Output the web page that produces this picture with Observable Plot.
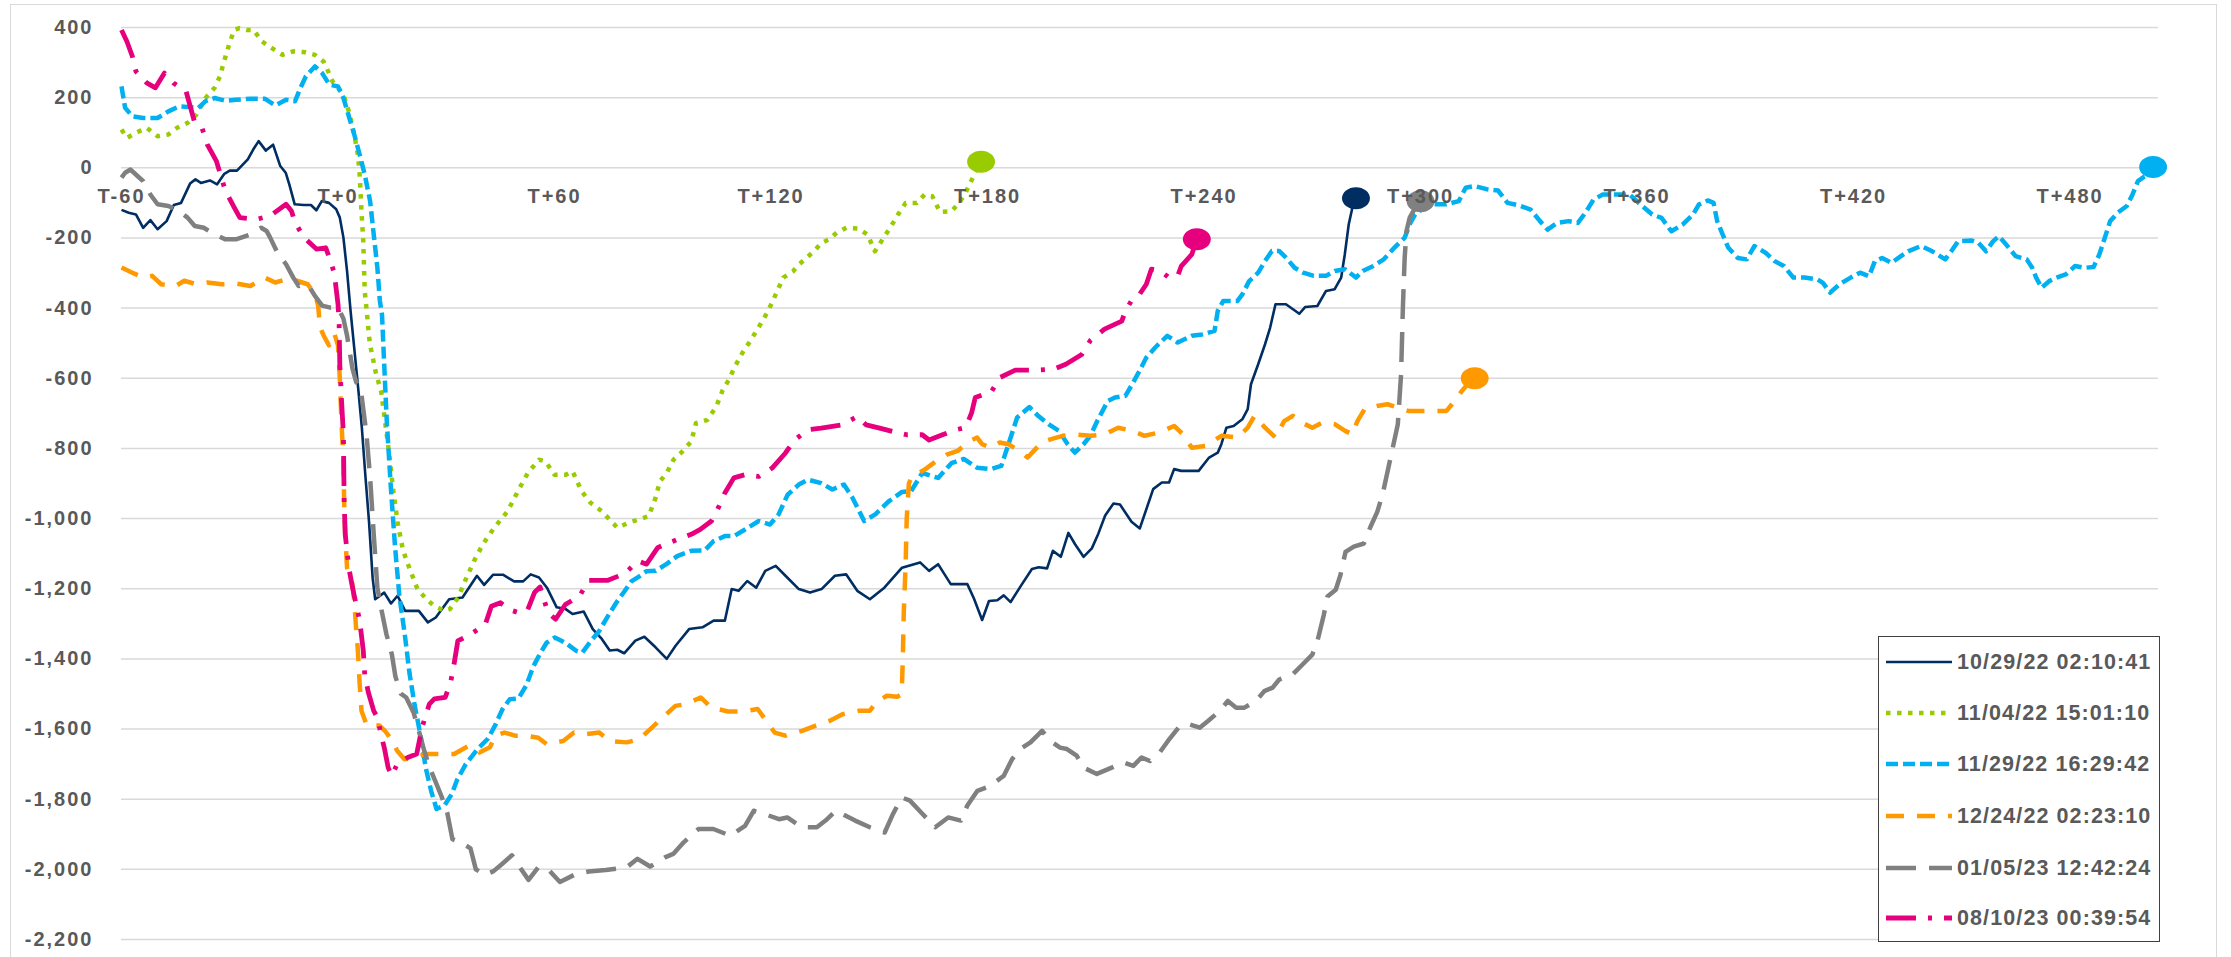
<!DOCTYPE html>
<html><head><meta charset="utf-8">
<script src="https://cdn.jsdelivr.net/npm/d3@7"></script>
<script src="https://cdn.jsdelivr.net/npm/@observablehq/plot@0.6"></script>
<style>
html,body{margin:0;padding:0;background:#fff;overflow:hidden;}
#wrap{position:relative;width:2231px;height:957px;font-family:"Liberation Sans",Arial,sans-serif;}
#frame{position:absolute;left:10px;top:4px;width:2207px;height:1000px;border:1.5px solid #d9d9d9;box-sizing:border-box;}
#chart{position:absolute;left:0;top:0;}
#chart svg{font-family:"Liberation Sans",Arial,sans-serif !important;overflow:visible;background:transparent !important;}
#chart svg text{font-weight:bold;fill:#595959;letter-spacing:2px;font-size:20px;}
#legend{position:absolute;left:1878px;top:636px;width:282px;height:306px;border:1.5px solid #404040;background:#fff;box-sizing:border-box;}
.row{position:absolute;left:7px;height:30px;display:flex;align-items:center;}
.row svg{display:block;margin-right:5px;}
.row span{font-weight:bold;font-size:21.5px;color:#595959;letter-spacing:1.1px;white-space:nowrap;}
</style>
</head><body>
<div id="wrap"><div id="frame"></div><div id="chart"></div><div id="legend"></div></div>
<script>
const xTicks = [-60, 0, 60, 120, 180, 240, 300, 360, 420, 480];
const xTickLabels = ["T-60","T+0","T+60","T+120","T+180","T+240","T+300","T+360","T+420","T+480"];
const yTicks = [400,200,0,-200,-400,-600,-800,-1000,-1200,-1400,-1600,-1800,-2000,-2200];
const seriesNames = ["10/29/22 02:10:41","11/04/22 15:01:10","11/29/22 16:29:42","12/24/22 02:23:10","01/05/23 12:42:24","08/10/23 00:39:54"];

// [minute relative to T, value]
const s102922 = [[-60,-120],[-58,-128],[-56,-133],[-54,-171],[-52,-149],[-50,-175],[-47.5,-152],[-45.5,-106],[-43.5,-100],[-41,-45],[-39.5,-33],[-38,-43],[-35.5,-36],[-33.5,-47],[-31.5,-17],[-30,-8],[-28,-8],[-25,24],[-23.5,52],[-22,76],[-20,49],[-18,66],[-16,5],[-14.5,-14],[-13.5,-47],[-12,-104],[-9.5,-106],[-7.5,-106],[-6,-121],[-4.5,-95],[-2.5,-100],[-0.5,-118],[0.5,-142],[1.5,-199],[2.5,-294],[3.5,-410],[4.6,-525],[5.7,-640],[6.6,-740],[7.6,-880],[8.6,-1010],[9.6,-1170],[10.3,-1230],[12.8,-1211],[14.7,-1242],[16.5,-1220],[18.6,-1263],[22.4,-1263],[24.9,-1296],[27.1,-1282],[30.8,-1230],[34.5,-1225],[38.5,-1163],[40.5,-1189],[43,-1160],[45.7,-1160],[48.8,-1179],[51.3,-1179],[53.4,-1159],[55.7,-1168],[57.9,-1197],[60.6,-1253],[63.1,-1258],[65,-1272],[68.1,-1265],[70.6,-1315],[73.1,-1343],[75.3,-1376],[77.4,-1374],[79.3,-1384],[82.4,-1348],[84.9,-1337],[88,-1367],[91.1,-1400],[93.6,-1362],[97.3,-1315],[101,-1310],[104.1,-1291],[107.2,-1291],[109.1,-1201],[111,-1206],[113.4,-1178],[115.9,-1197],[118.4,-1149],[121.3,-1135],[124,-1163],[127.7,-1201],[130.8,-1211],[134,-1201],[137.7,-1163],[140.8,-1159],[143.9,-1206],[147.4,-1230],[151.4,-1197],[156.3,-1140],[161.3,-1125],[163.8,-1149],[166.3,-1130],[169.8,-1187],[174.4,-1187],[176.2,-1227],[178.5,-1289],[180.4,-1235],[182.7,-1233],[184.5,-1219],[186.4,-1238],[189.1,-1194],[192.3,-1144],[194.2,-1139],[196.5,-1142],[198.1,-1092],[200.3,-1109],[202.4,-1041],[204.3,-1074],[206.6,-1109],[208.9,-1085],[210.7,-1043],[212.6,-991],[214.9,-957],[216.7,-960],[219.9,-1009],[222.2,-1028],[225.9,-916],[228.3,-897],[230.3,-897],[231.7,-859],[233.7,-864],[238.5,-864],[241.4,-826],[243.8,-812],[244.8,-788],[246.2,-741],[248.2,-736],[250.6,-717],[252.1,-688],[253,-617],[255,-560],[256.9,-503],[258.3,-456],[259.8,-389],[262.7,-389],[266.4,-416],[268,-397],[271.4,-394],[273.8,-351],[276.2,-346],[278,-313],[279,-247],[280.1,-161],[281.1,-114],[282.1,-87]];

const s110422 = [[-60,109],[-58.5,85],[-56,100],[-53,114],[-50,90],[-47,95],[-44.6,114],[-41.7,128],[-39.2,152],[-36.7,199],[-34.2,228],[-32.7,261],[-31.7,299],[-30.2,351],[-28.8,393],[-27.3,398],[-25.3,393],[-23.3,393],[-21.3,362],[-18.3,341],[-15.4,322],[-12.4,332],[-9.4,330],[-6.4,322],[-4,303],[-2.5,270],[-1.5,246],[1.5,209],[3,161],[4.5,95],[5.5,38],[6,-19],[6.5,-123],[7,-209],[7.4,-351],[7.9,-402],[8.8,-500],[10.5,-585],[12,-640],[13,-720],[14,-800],[15.2,-910],[16.5,-1010],[18,-1090],[19.8,-1142],[22,-1200],[24.5,-1230],[26.8,-1250],[29.5,-1263],[31,-1258],[33.3,-1225],[35.2,-1178],[37.7,-1121],[40.1,-1074],[43.3,-1026],[47,-979],[50.1,-917],[52.6,-870],[55.7,-832],[57.5,-837],[60,-875],[63.1,-875],[65,-865],[67.5,-922],[70,-955],[73.1,-979],[77.4,-1026],[80.5,-1012],[86.1,-993],[88,-941],[89.2,-894],[91.1,-870],[93,-832],[95.4,-809],[97.9,-780],[99.2,-728],[102.3,-719],[104.8,-681],[106.6,-634],[108.5,-601],[109.7,-572],[112.2,-525],[114.1,-496],[116.6,-454],[119.2,-408],[121.3,-361],[123.4,-313],[126.1,-295],[127.7,-276],[129.8,-257],[131.9,-238],[134,-214],[136.1,-204],[138.2,-185],[140.9,-171],[144.1,-173],[146.7,-190],[148.8,-238],[150.9,-204],[153,-171],[155.2,-133],[157.3,-100],[160.4,-100],[162.6,-76],[164.7,-81],[166.8,-126],[170,-124],[172.1,-100],[173.7,-76],[175.2,-43],[176.8,-10],[178.2,17]];

const s112922 = [[-60,232],[-59,171],[-57,147],[-54,142],[-50,142],[-47,161],[-44,175],[-41,173],[-38.7,171],[-36.7,190],[-34.2,199],[-31.2,191],[-28.3,194],[-24.3,197],[-20.3,197],[-17.4,178],[-14.4,194],[-11.9,190],[-10.4,228],[-8.9,261],[-6.4,289],[-4.4,270],[-2.4,237],[0,232],[1.5,199],[3,147],[4.5,95],[6,38],[7.4,-19],[8.9,-95],[9.9,-190],[10.9,-284],[11.6,-379],[12.2,-420],[12.8,-560],[13.5,-720],[14.6,-905],[15.8,-1080],[17,-1220],[18.5,-1330],[19.8,-1440],[21.2,-1530],[22.8,-1614],[24.3,-1710],[25.8,-1776],[27.3,-1828],[29.5,-1818],[31.5,-1786],[33,-1745],[35.4,-1700],[38.6,-1658],[41.6,-1627],[43.6,-1588],[45.6,-1543],[47.6,-1515],[50,-1513],[52.2,-1475],[54.2,-1420],[56,-1385],[57.8,-1354],[60.1,-1339],[63,-1354],[66,-1377],[67.7,-1382],[70.1,-1349],[72.4,-1320],[74.8,-1278],[77.1,-1240],[79.4,-1207],[81.2,-1180],[83.5,-1165],[85.5,-1150],[88,-1149],[91,-1130],[94,-1107],[97.9,-1092],[101.6,-1091],[104.1,-1064],[107.2,-1050],[109.7,-1050],[112.8,-1031],[116.6,-1007],[119.7,-1017],[122.1,-988],[124.6,-932],[127.7,-903],[130.2,-889],[133.9,-899],[137,-917],[140.2,-903],[142.6,-941],[145.8,-1007],[148.9,-988],[152.6,-951],[156.3,-924],[158.8,-922],[161.9,-870],[166.3,-884],[170,-842],[173.4,-830],[177.1,-855],[180.9,-859],[183.8,-850],[185.8,-788],[188.2,-712],[191.6,-682],[194,-707],[196.9,-731],[199.8,-750],[202.2,-788],[204.2,-812],[206.6,-788],[208.5,-764],[210.4,-722],[213.3,-665],[215.3,-655],[218.2,-650],[220.1,-617],[222.1,-579],[224,-541],[226.4,-513],[229.8,-479],[232.7,-498],[236.6,-479],[239.5,-475],[242.9,-465],[243.8,-408],[245.3,-380],[249.2,-380],[250.6,-361],[252.5,-323],[255,-299],[256.9,-266],[258.8,-237],[260.8,-237],[262.7,-256],[265.1,-285],[267.5,-299],[270.4,-308],[273.8,-308],[276.2,-294],[279.1,-289],[282.1,-313],[284,-294],[286.9,-280],[289.8,-261],[292.7,-228],[295.6,-199],[297,-161],[298.5,-133],[300.9,-114],[303.8,-104],[307.2,-104],[310.6,-95],[312.5,-57],[315,-52],[318.8,-62],[321.5,-65],[324.1,-100],[327.3,-107],[330.5,-119],[333.1,-152],[335.2,-176],[337.8,-157],[341,-152],[343.6,-157],[345.7,-128],[347.9,-91],[350.5,-76],[354.7,-76],[357.9,-76],[361,-105],[364.2,-133],[366.8,-143],[369.5,-181],[372.6,-162],[375.5,-133],[377.1,-105],[379.6,-93],[381.2,-100],[382.2,-152],[383.7,-190],[385.3,-228],[387.9,-257],[390.4,-261],[392.5,-223],[395.6,-242],[398.1,-266],[400.7,-280],[403.3,-313],[406.4,-313],[410,-318],[411.5,-328],[413.5,-356],[416.1,-332],[419.2,-313],[421.8,-299],[424.3,-309],[425.9,-266],[427.9,-257],[430.5,-271],[433.1,-252],[435.1,-238],[438.7,-223],[441.8,-238],[445.4,-261],[447.4,-233],[449,-209],[452.6,-207],[454.6,-214],[456.7,-238],[458.7,-209],[460.3,-195],[462.3,-219],[464.9,-252],[468,-261],[469.5,-285],[470.6,-313],[472.1,-342],[474.2,-323],[476.2,-313],[478.8,-304],[481.4,-280],[484,-285],[486.5,-283],[488.1,-247],[489.6,-200],[491.1,-152],[493.2,-128],[495.7,-109],[497.3,-76],[498.8,-38],[501.4,-19],[503,2]];

const s122422 = [[-60,-284],[-57,-299],[-54,-313],[-51.5,-308],[-49,-332],[-45,-337],[-42.6,-322],[-39.2,-332],[-36.2,-327],[-32.2,-332],[-28.3,-330],[-24.3,-337],[-20.3,-313],[-17.4,-327],[-14.4,-318],[-11.4,-322],[-8.4,-332],[-6.4,-360],[-5.5,-393],[-5,-454],[-4,-478],[-2.5,-506],[-1,-473],[0,-506],[0.5,-600],[1,-733],[1.5,-837],[1.7,-951],[2,-1045],[2.5,-1140],[4,-1187],[4.5,-1234],[5,-1310],[5.5,-1376],[6,-1471],[6.5,-1548],[8,-1590],[11.5,-1590],[13,-1605],[15,-1633],[16.4,-1662],[18.4,-1686],[21.3,-1681],[24.3,-1671],[28.3,-1671],[32.2,-1671],[36.2,-1648],[39.2,-1667],[42.1,-1652],[43.6,-1619],[46.1,-1610],[49.1,-1619],[52,-1619],[55.5,-1625],[57.8,-1643],[62.4,-1634],[65.4,-1610],[68.3,-1615],[72.4,-1610],[75.3,-1634],[80,-1638],[83.5,-1629],[87,-1596],[90,-1567],[93.5,-1534],[96.4,-1529],[100.5,-1510],[103.5,-1539],[108.1,-1550],[112.2,-1550],[116.3,-1543],[118.7,-1577],[121,-1610],[124,-1619],[128.6,-1605],[132.2,-1591],[136.2,-1577],[139.8,-1558],[144.4,-1548],[147.4,-1548],[149.1,-1524],[152.1,-1505],[155,-1508],[156.2,-1501],[156.5,-1406],[156.8,-1264],[157.3,-1131],[157.6,-1000],[158.2,-900],[159,-880],[160,-875],[162.5,-861],[165,-842],[168.7,-818],[171.7,-807],[175.1,-779],[177.1,-769],[178.5,-788],[180.9,-798],[183.4,-783],[185.8,-788],[188.7,-807],[191.1,-826],[195,-783],[197.4,-774],[200.8,-764],[204.2,-760],[208.5,-764],[212.4,-760],[216.2,-741],[220.1,-750],[223.5,-764],[227.4,-755],[231.7,-736],[234.2,-760],[236.6,-798],[240.4,-793],[244.8,-764],[249.2,-769],[252.1,-741],[254,-707],[256.9,-741],[259.8,-769],[262.2,-722],[264.6,-707],[267,-726],[270,-741],[272.9,-726],[276.2,-731],[279.1,-750],[281.1,-760],[282.5,-722],[284.5,-688],[287.9,-679],[290.8,-674],[293.7,-684],[296.6,-693],[299.5,-693],[303.3,-693],[307.2,-693],[309.1,-669],[311.1,-641],[313,-617],[315,-600]];

const s010523 = [[-60,-28],[-59,-14],[-57.5,-5],[-55.5,-24],[-54,-38],[-52,-76],[-50,-104],[-47,-109],[-44.1,-123],[-41.7,-142],[-39.7,-166],[-37.2,-171],[-34.2,-190],[-31.2,-204],[-28.3,-204],[-24.3,-190],[-21.3,-171],[-19.8,-180],[-18.8,-199],[-16.8,-242],[-14.4,-275],[-12.4,-313],[-10.9,-337],[-8.4,-332],[-6.4,-365],[-4.4,-393],[-2.4,-398],[0,-398],[1.5,-430],[2.5,-478],[4,-572],[5,-610],[6.4,-638],[7.9,-761],[8.9,-884],[9.9,-1045],[10.9,-1197],[11.9,-1253],[13.4,-1329],[14.9,-1386],[15.9,-1450],[17.4,-1499],[18.9,-1510],[20.9,-1552],[22.4,-1605],[23.9,-1662],[25.4,-1710],[27.3,-1757],[28.8,-1795],[30.3,-1840],[31.7,-1914],[34.2,-1924],[36.7,-1940],[38.2,-2000],[40.7,-2016],[43.1,-2005],[45.3,-1986],[48.2,-1960],[50.4,-1994],[52.8,-2030],[55.5,-1994],[58.4,-2002],[61.5,-2036],[66,-2013],[69.5,-2006],[74.2,-2002],[80,-1994],[83,-1970],[86.5,-1992],[90.6,-1966],[92.9,-1956],[95.8,-1923],[99.9,-1885],[104,-1885],[108.7,-1904],[112.8,-1876],[115.2,-1833],[118.1,-1842],[122.2,-1857],[124.5,-1852],[128.6,-1880],[132.7,-1880],[135.1,-1861],[138,-1833],[143.3,-1861],[147.4,-1880],[151.5,-1895],[153.8,-1842],[156.2,-1795],[158.5,-1804],[162,-1842],[165.5,-1880],[169.1,-1852],[172.6,-1861],[174.4,-1818],[177.2,-1776],[180.8,-1762],[184.5,-1733],[186.8,-1686],[189.1,-1657],[191.9,-1638],[195.1,-1605],[197.4,-1634],[200.1,-1653],[202,-1657],[204.7,-1676],[206.6,-1710],[210.3,-1728],[214.9,-1708],[217.6,-1695],[220.4,-1705],[222.7,-1681],[225,-1691],[227.7,-1667],[230,-1634],[233.3,-1591],[236,-1587],[238.8,-1596],[241.1,-1577],[244.3,-1549],[246.6,-1520],[248.9,-1539],[251.2,-1539],[254.4,-1520],[256.7,-1492],[259,-1482],[260.8,-1459],[264.5,-1445],[267.3,-1416],[270,-1388],[271.4,-1350],[272.3,-1312],[273.2,-1274],[274.2,-1222],[276.5,-1203],[277.8,-1161],[279.2,-1095],[281.5,-1080],[284.3,-1071],[286.1,-1024],[288,-981],[289.5,-930],[291.7,-826],[293.7,-731],[294.6,-589],[295.1,-399],[295.6,-256],[296.1,-180],[297,-142],[298.5,-114],[300,-95]];

const s081023 = [[-60,393],[-58.5,360],[-57,318],[-56,275],[-53,242],[-50.6,228],[-48.1,270],[-45.6,242],[-42.1,218],[-39.7,128],[-37.7,114],[-36.2,66],[-33.7,19],[-31.2,-66],[-28.7,-114],[-27.2,-142],[-22.7,-147],[-18.8,-137],[-14.4,-104],[-12.9,-123],[-11.9,-156],[-9.4,-199],[-5.9,-232],[-3.4,-228],[-1.9,-270],[-1,-303],[0,-389],[0.3,-440],[0.5,-563],[1,-667],[1.5,-761],[1.7,-951],[2,-1045],[3,-1140],[4,-1196],[6,-1291],[7,-1376],[7.4,-1445],[8.4,-1495],[9.9,-1548],[10.9,-1567],[11.9,-1614],[12.9,-1657],[13.9,-1710],[14.9,-1733],[16.4,-1700],[19.3,-1681],[21.8,-1671],[23.3,-1595],[25.3,-1529],[26.7,-1514],[29.7,-1510],[31.2,-1467],[32,-1425],[33.2,-1349],[36.7,-1330],[40.8,-1302],[42.5,-1250],[45,-1240],[47.5,-1260],[50,-1268],[52.5,-1262],[54.5,-1210],[56,-1195],[58.2,-1268],[60.3,-1287],[63,-1245],[67,-1220],[69.4,-1176],[74.8,-1176],[79.4,-1157],[83.2,-1121],[85.5,-1130],[88.6,-1083],[90.5,-1074],[94.2,-1059],[97.9,-1045],[100.4,-1031],[103.5,-1007],[105.4,-969],[107.2,-927],[109.7,-884],[112.8,-875],[116.6,-880],[120.3,-856],[124,-813],[126.5,-776],[130.2,-747],[133.9,-742],[139.5,-733],[143.9,-709],[146.4,-733],[150.1,-742],[153.8,-752],[157.6,-761],[161.9,-761],[163.8,-776],[167.5,-761],[171.2,-747],[174,-740],[175.6,-698],[176.6,-655],[179,-646],[180.9,-641],[183.4,-598],[187.7,-577],[193,-577],[198.3,-574],[201.7,-560],[206.1,-532],[208.5,-492],[212.4,-460],[217.2,-437],[218.2,-408],[220.1,-375],[222.1,-361],[224,-332],[225.4,-289],[227.9,-294],[230.3,-313],[232.7,-308],[233.7,-280],[236.6,-247],[238,-204]];

const seriesList = [s102922, s110422, s112922, s122422, s010523, s081023];
const colors = ["#002D62", "#99CC00", "#00B0F0", "#FF9900", "#808080", "#E6007E"];
const widths = [2.6, 4.5, 4.5, 4.5, 4.5, 4.8];
const dashes = [null, "4.5,6.5", "12,5", "18,13", "30,13", "30,12,4,12"];

const ellipse = {
  draw(ctx, size) {
    const r = Math.sqrt(size / Math.PI), rx = r * 1.27, ry = r, k = 0.5523;
    ctx.moveTo(rx, 0);
    ctx.bezierCurveTo(rx, k * ry, k * rx, ry, 0, ry);
    ctx.bezierCurveTo(-k * rx, ry, -rx, k * ry, -rx, 0);
    ctx.bezierCurveTo(-rx, -k * ry, -k * rx, -ry, 0, -ry);
    ctx.bezierCurveTo(k * rx, -ry, rx, -k * ry, rx, 0);
    ctx.closePath();
  }
};

const lineMarks = seriesList.map((s, i) => Plot.line(s, {
  x: d => d[0], y: d => d[1], stroke: colors[i], strokeWidth: widths[i],
  strokeDasharray: dashes[i] || undefined, strokeLinecap: "butt", strokeLinejoin: "round"
}));
const dotMarks = seriesList.map((s, i) => Plot.dot([s[s.length - 1]], {
  x: d => d[0], y: d => d[1], r: 11, fill: colors[i], stroke: "none", symbol: ellipse
}));

const chart = Plot.plot({
  width: 2231, height: 957,
  marginLeft: 121, marginRight: 73, marginTop: 27, marginBottom: 18,
  x: {domain: [-60, 504.5], axis: null},
  y: {domain: [-2200, 400]},
  marks: [
    Plot.ruleY(yTicks, {stroke: "#d9d9d9", strokeWidth: 1.5}),
    ...lineMarks,
    ...dotMarks,
    Plot.text(xTicks, {x: d => d, y: () => 0, text: (d, i) => xTickLabels[i], dy: 29, fontSize: 20, fontWeight: "bold", fill: "#595959"}),
    Plot.axisY({ticks: yTicks, tickSize: 0, tickPadding: 28, tickFormat: d => d.toLocaleString("en-US"), fontSize: 20, fontWeight: "bold", label: null})
  ]
});
document.getElementById("chart").appendChild(chart);

// legend
const legend = document.getElementById("legend");
const rowCenters = [25, 76, 127, 179, 231, 281];
seriesNames.forEach((name, i) => {
  const row = document.createElement("div");
  row.className = "row";
  row.style.top = (rowCenters[i] - 15) + "px";
  const dash = dashes[i] ? ` stroke-dasharray="${dashes[i]}"` : "";
  row.innerHTML = `<svg width="66" height="12"><line x1="0" y1="6" x2="66" y2="6" stroke="${colors[i]}" stroke-width="${widths[i]}"${dash}/></svg><span>${name}</span>`;
  legend.appendChild(row);
});
</script>
</body></html>
